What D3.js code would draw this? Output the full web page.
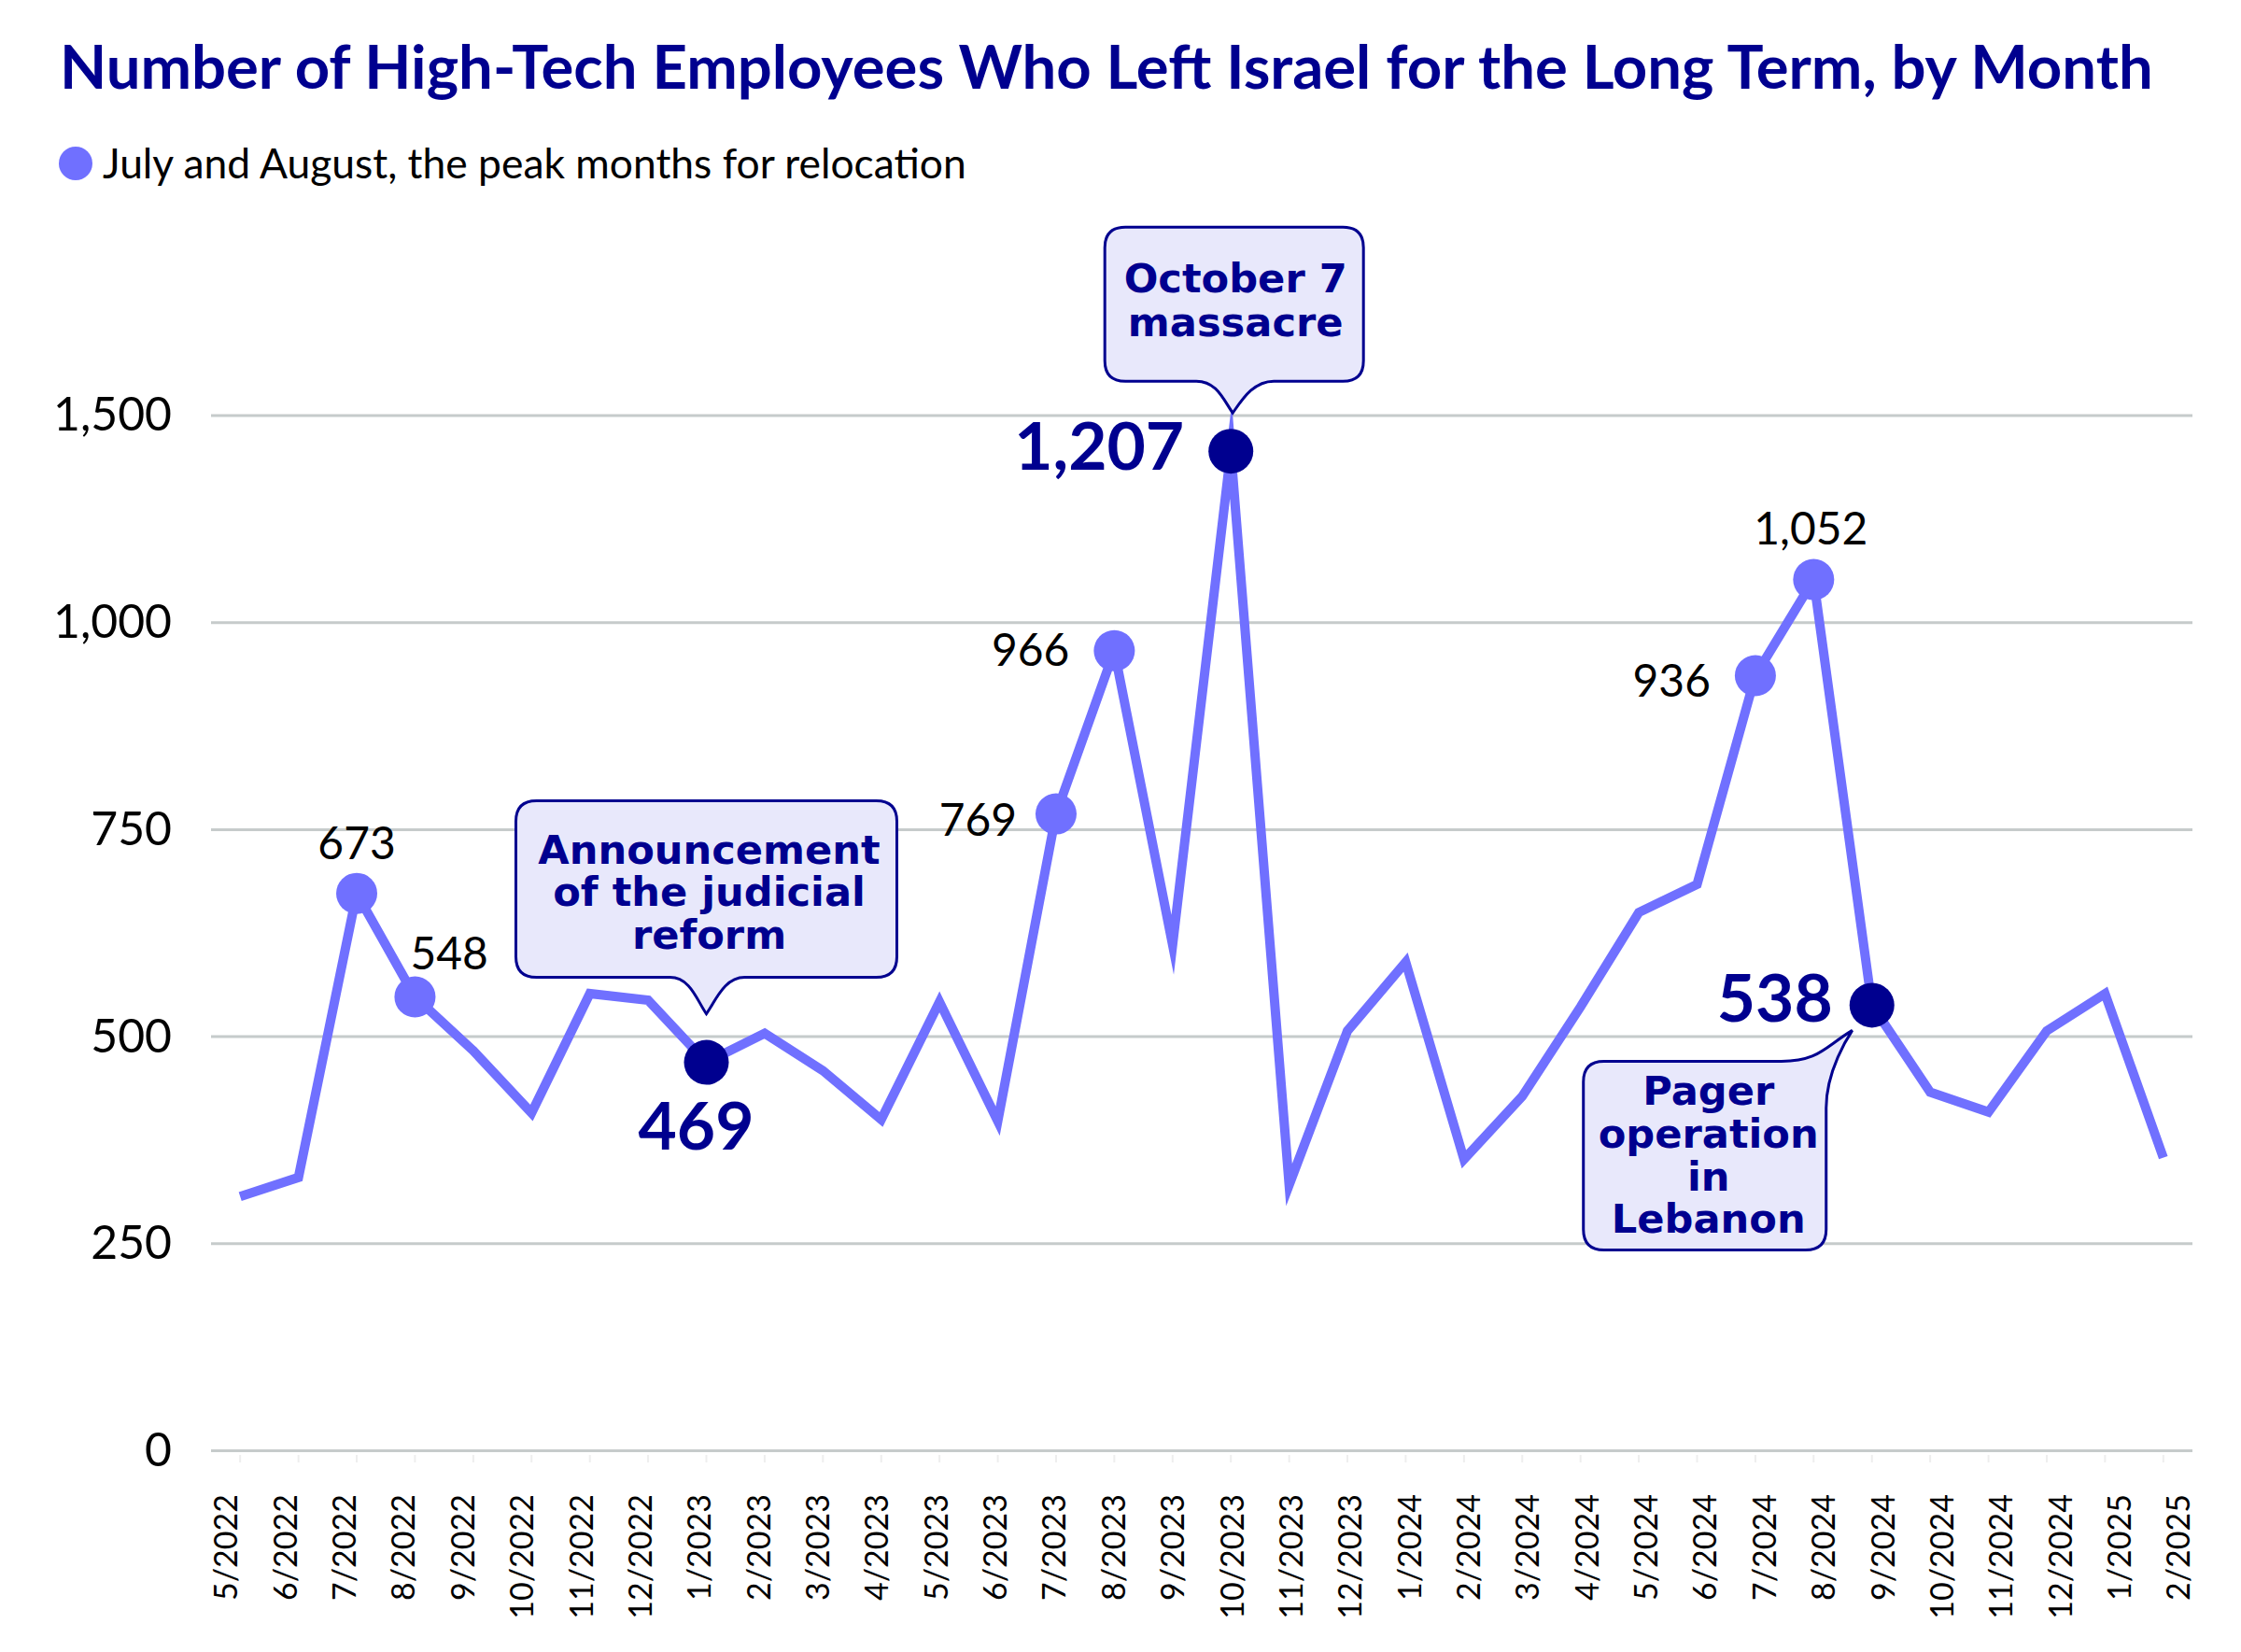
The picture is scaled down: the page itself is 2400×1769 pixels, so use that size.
<!DOCTYPE html>
<html><head><meta charset="utf-8">
<script src="https://cdn.jsdelivr.net/npm/d3@7"></script>
<style>body{margin:0;background:#fff}svg{display:block}</style>
</head><body>
<svg id="chart" width="2400" height="1769"></svg>
<script>
// ---------- data ----------
const months = ["5/2022","6/2022","7/2022","8/2022","9/2022","10/2022","11/2022","12/2022",
  "1/2023","2/2023","3/2023","4/2023","5/2023","6/2023","7/2023","8/2023","9/2023","10/2023","11/2023","12/2023",
  "1/2024","2/2024","3/2024","4/2024","5/2024","6/2024","7/2024","8/2024","9/2024","10/2024","11/2024","12/2024",
  "1/2025","2/2025"];
const values = [307,330,673,548,483,408,552,544,
  469,504,459,400,542,398,769,966,611,1207,321,507,
  590,352,428,536,650,684,936,1052,538,433,409,507,
  552,354];
const peakMonths = ["7/2022","8/2022","7/2023","8/2023","7/2024","8/2024"];
const peakLabels = ["673","548","769","966","936","1,052"];
const eventMonths = ["1/2023","10/2023","9/2024"];
const eventLabels = ["469","1,207","538"];
const eventNotes = [["Announcement","of the judicial","reform"],["October 7","massacre"],["Pager","operation","in","Lebanon"]];
const yTickValues = [0,250,500,750,1000,1250];
const yTickLabels = ["0","250","500","750","1,000","1,500"];
const titleText = "Number of High-Tech Employees Who Left Israel for the Long Term, by Month";
const legendText = "July and August, the peak months for relocation";

// ---------- style ----------
const NAVY = "#00008f", LINE = "#7070ff", GRID = "#c6cbcb", FILL = "#e8e8fb";
const FONT = "Lato, 'Open Sans', sans-serif";
const NOTE_FONT = "'DejaVu Sans', 'Open Sans', sans-serif";

const svg = d3.select("#chart");
const x = d3.scaleBand().domain(months).range([226, 2348]);
const xLab = d3.scalePoint().domain(months).range([242, 2333]);
const y = d3.scaleLinear().domain([0, 1250]).range([1553.5, 445]);
const px = m => x(m) + x.bandwidth() / 2;
const valOf = m => values[months.indexOf(m)];

function fit(sel, target) {
  const w = sel.node().getComputedTextLength();
  const fs = parseFloat(sel.attr("font-size"));
  return fs * target / w;
}

// title
const t = svg.append("text").attr("x", 64).attr("y", 95)
  .attr("font-family", FONT).attr("font-weight", 700).attr("font-size", 57)
  .attr("fill", NAVY).text(titleText);
t.attr("font-size", fit(t, 2242));

// legend
svg.append("circle").attr("cx", 81).attr("cy", 175).attr("r", 18).attr("fill", LINE);
const lg = svg.append("text").attr("x", 110).attr("y", 175).attr("dy", "0.35em")
  .attr("font-family", FONT).attr("font-size", 36).attr("fill", "#000").text(legendText);
lg.attr("font-size", fit(lg, 925));

// grid
svg.append("g").selectAll("line").data(yTickValues).join("line")
  .attr("x1", 226).attr("x2", 2348)
  .attr("y1", d => y(d)).attr("y2", d => y(d))
  .attr("stroke", GRID).attr("stroke-width", 3);

// y axis
const ya = svg.append("g").attr("transform", "translate(226,0)")
  .call(d3.axisLeft(y).tickValues(yTickValues).tickFormat((d, i) => yTickLabels[i]).tickSize(0).tickPadding(42));
ya.select(".domain").remove();
ya.selectAll("text").attr("font-family", FONT).attr("font-size", 40).attr("fill", "#000");
{
  const s = ya.selectAll("text").filter((d, i) => yTickLabels[i] === "1,000");
  const fs = fit(s, 127);
  ya.selectAll("text").attr("font-size", fs);
}

// x axis
const xa = svg.append("g").attr("transform", "translate(0,1553)")
  .call(d3.axisBottom(xLab).tickSize(0));
xa.select(".domain").remove();
xa.selectAll("text").attr("font-family", FONT).attr("font-size", 34).attr("fill", "#000")
  .attr("y", 0).attr("x", -47).attr("dy", "0.35em")
  .attr("transform", "rotate(-90)").style("text-anchor", "end");
// faint ticks
svg.append("g").selectAll("line").data(months).join("line")
  .attr("x1", d => px(d)).attr("x2", d => px(d)).attr("y1", 1558).attr("y2", 1566)
  .attr("stroke", "#eeeeee").attr("stroke-width", 2);

// line
svg.append("path").datum(months)
  .attr("d", d3.line().x(m => px(m)).y(m => y(valOf(m))))
  .attr("fill", "none").attr("stroke", LINE).attr("stroke-width", 10)
  .attr("stroke-linejoin", "miter").attr("stroke-miterlimit", 12);

// callouts (drawn under dots)
function tailBottom(L, R, T, B, r, x1, x2, tx, ty) {
  return `M${L + r},${T} H${R - r} Q${R},${T} ${R},${T + r} V${B - r} Q${R},${B} ${R - r},${B} H${x2} ` +
    `C${x2 - 22},${B} ${tx + 10},${ty - 14} ${tx},${ty} C${tx - 10},${ty - 14} ${x1 + 22},${B} ${x1},${B} ` +
    `H${L + r} Q${L},${B} ${L},${B - r} V${T + r} Q${L},${T} ${L + r},${T} Z`;
}
function tailTopRight(L, R, T, B, r, x1, tx, ty, ry) {
  return `M${L + r},${T} H${x1} C${x1 + 40},${T} ${tx - 30},${ty + 18} ${tx},${ty} ` +
    `C${tx - 4},${ty + 6} ${R},${ry - 40} ${R},${ry} V${B - r} Q${R},${B} ${R - r},${B} ` +
    `H${L + r} Q${L},${B} ${L},${B - r} V${T + r} Q${L},${T} ${L + r},${T} Z`;
}
const calloutGeom = [
  (p, q) => ({ d: tailBottom(p - 204, p + 204, q - 280, q - 91, 22, p - 39, p + 41, p, q - 52), cx: p + 3, lines: [q - 213, q - 168, q - 122], w: 370 }),
  (p, q) => ({ d: tailBottom(p - 135, p + 142, q - 240, q - 75, 22, p - 37, p + 46, p + 2, q - 41), cx: p + 5, lines: [q - 170, q - 123], w: 233 }),
  (p, q) => ({ d: tailTopRight(p - 309, p - 49, q + 60, q + 262, 22, p - 97, p - 21, q + 27, q + 110), cx: p - 175, lines: [q + 107, q + 153, q + 199, q + 244], w: 240 })
];
const cg = svg.append("g");
const noteSizes = [];
eventMonths.forEach((m, i) => {
  const g = calloutGeom[i](px(m), y(valOf(m)));
  cg.append("path").attr("d", g.d).attr("fill", FILL).attr("stroke", NAVY).attr("stroke-width", 3);
  const txt = cg.append("g").attr("class", "note").attr("font-family", NOTE_FONT).attr("font-weight", 700).attr("fill", NAVY)
    .attr("text-anchor", "middle").attr("font-size", 42);
  const ts = eventNotes[i].map((s, j) => txt.append("text").attr("x", g.cx).attr("y", g.lines[j]).text(s));
  let maxW = 0;
  ts.forEach(s => { maxW = Math.max(maxW, s.node().getComputedTextLength()); });
  noteSizes.push(42 * g.w / maxW);
});
const noteFs = Math.min(44, d3.mean(noteSizes));
cg.selectAll("g.note").attr("font-size", noteFs);

// peak dots
svg.append("g").selectAll("circle").data(peakMonths).join("circle")
  .attr("cx", d => px(d)).attr("cy", d => y(valOf(d))).attr("r", 22).attr("fill", LINE);
// event dots
svg.append("g").selectAll("circle").data(eventMonths).join("circle")
  .attr("cx", d => px(d)).attr("cy", d => y(valOf(d))).attr("r", 24).attr("fill", NAVY);

// peak labels
const peakPos = [
  { dx: 0, dy: -37, a: "middle" },
  { dx: -5, dy: -30, a: "start" },
  { dx: -42, dy: 23, a: "end" },
  { dx: -48, dy: 16, a: "end" },
  { dx: -48, dy: 23, a: "end" },
  { dx: -3, dy: -38, a: "middle" }
];
const pl = svg.append("g").attr("font-family", FONT).attr("font-size", 46).attr("fill", "#000");
peakMonths.forEach((m, i) => {
  pl.append("text").attr("x", px(m) + peakPos[i].dx).attr("y", y(valOf(m)) + peakPos[i].dy)
    .attr("text-anchor", peakPos[i].a).text(peakLabels[i]);
});
{
  const s = pl.selectAll("text").filter(function () { return this.textContent === "1,052"; });
  pl.attr("font-size", fit(s.attr("font-size", 46), 122));
  pl.selectAll("text").attr("font-size", null);
}

// event labels
const evPos = [
  { dx: -11, dy: 93, a: "middle" },
  { dx: -50, dy: 20, a: "end" },
  { dx: -42, dy: 18, a: "end" }
];
const el = svg.append("g").attr("font-family", FONT).attr("font-weight", 700).attr("fill", NAVY);
eventMonths.forEach((m, i) => {
  el.append("text").attr("x", px(m) + evPos[i].dx).attr("y", y(valOf(m)) + evPos[i].dy)
    .attr("text-anchor", evPos[i].a).text(eventLabels[i]);
});
{
  const s = el.selectAll("text").filter(function () { return this.textContent === "469"; });
  s.attr("font-size", 70);
  const fs = fit(s, 124);
  el.selectAll("text").attr("font-size", fs);
}
</script>
</body></html>
